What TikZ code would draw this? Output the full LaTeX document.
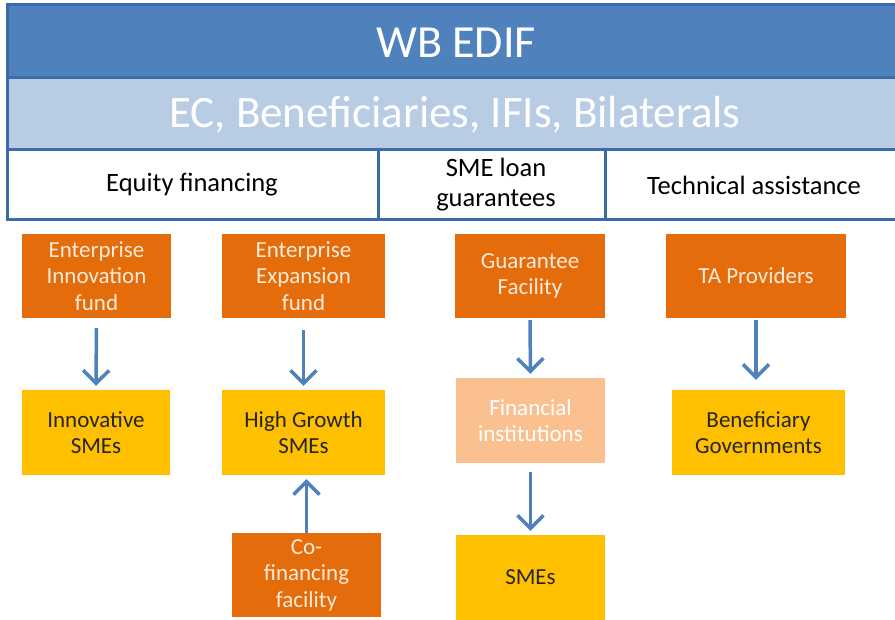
\documentclass[tikz,border=0pt]{standalone}
\usepackage{fontspec}
\setmainfont{Carlito}
\usetikzlibrary{arrows.meta}
\definecolor{dblue}{HTML}{4F81BD}
\definecolor{lblue}{HTML}{B8CCE4}
\definecolor{bord}{HTML}{3B6CA8}
\definecolor{orng}{HTML}{E46C0A}
\definecolor{yell}{HTML}{FFC000}
\definecolor{peach}{HTML}{FAC090}
\definecolor{cream}{HTML}{FDEADA}
\tikzset{
  x=1pt,y=-1pt,
  band/.style={draw=bord,line width=3pt},
  hdr/.style={font=\fontsize{26.5}{30}\selectfont,align=center,text=black},
  obox/.style={fill=orng,text=cream,font=\fontsize{23}{26.5}\selectfont,align=center,inner sep=0pt},
  ybox/.style={fill=yell,text=black!85,font=\fontsize{23}{26.5}\selectfont,align=center,inner sep=0pt},
  pbox/.style={fill=peach,text=white,font=\fontsize{23}{26.5}\selectfont,align=center,inner sep=0pt},
  arr/.style={draw=dblue,line width=3.5pt,-{Straight Barb[length=13pt,width=26pt,line width=3.5pt]}}
}
\newcommand{\bx}[6]{\node[#1,minimum width=#4pt,minimum height=#5pt] (#2) at (#3) {#6};}
\begin{document}
\begin{tikzpicture}
\useasboundingbox (0,0) rectangle (895,620);
% top table
\fill[dblue] (7,5) rectangle (897,78);
\fill[lblue] (7,78) rectangle (897,150);
\fill[white] (7,150) rectangle (897,220);
\draw[band] (897,5) -- (7,5) -- (7,220) -- (897,220);
\draw[band] (7,78) -- (897,78);
\draw[band] (7,150) -- (897,150);
\draw[band] (378,150) -- (378,220);
\draw[band] (605,150) -- (605,220);
\node[text=white,font=\fontsize{46}{50}\selectfont] (t1) at (456,43) {WB EDIF};
\node[text=white,font=\fontsize{45}{50}\selectfont] (t2) at (455,115) {EC, Beneficiaries, IFIs, Bilaterals};
\node[hdr] (h1) at (192,185) {Equity financing};
\node[hdr] (h2) at (496,185) {SME loan\\guarantees};
\node[hdr] (h3) at (754,185) {Technical assistance};
% boxes
\bx{obox}{eif}{96.5,276}{149}{84}{Enterprise\\Innovation\\fund}
\bx{obox}{eef}{303.5,276}{163}{84}{Enterprise\\Expansion\\fund}
\bx{obox}{gf}{530,276}{150}{84}{Guarantee\\Facility}
\bx{obox}{ta}{756,276}{180}{84}{TA Providers}
\bx{ybox}{is}{96,432.5}{148}{85}{Innovative\\SMEs}
\bx{ybox}{hg}{303.5,432.5}{163}{85}{High Growth\\SMEs}
\bx{pbox}{fi}{530.5,420.5}{149}{85}{Financial\\institutions}
\bx{ybox}{bg}{758.5,432.5}{173}{85}{Beneficiary\\Governments}
\bx{ybox}{sm}{530.5,577.5}{149}{85}{SMEs}
\bx{obox}{cf}{306.5,575}{149}{84}{Co-\\financing\\facility}
% arrows
\draw[arr,shorten <=10pt,shorten >=4pt] (eif.south) -- (is.north);
\draw[arr,shorten <=12pt,shorten >=4pt] (eef.south) -- (hg.north);
\draw[arr,shorten >=4pt] (cf.north) -- (cf.north |- hg.south);
\draw[arr,shorten <=2pt,shorten >=4pt] (gf.south) -- (fi.north);
\draw[arr,shorten <=9pt,shorten >=4pt] (fi.south) -- (sm.north);
\draw[arr,shorten <=2pt,shorten >=10pt] (ta.south) -- (ta.south |- bg.north);
\end{tikzpicture}
\end{document}
